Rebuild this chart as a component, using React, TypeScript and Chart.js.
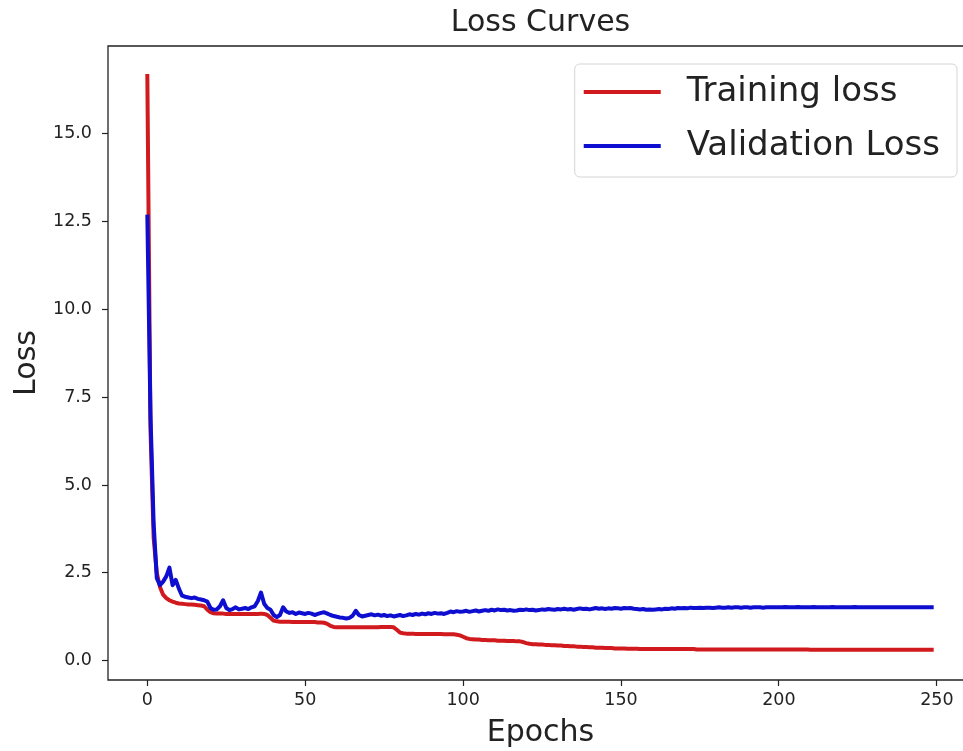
import React, { useEffect, useRef } from "react";
import { Chart, registerables } from "chart.js";

Chart.register(...registerables);

const chartTitle = "Loss Curves";
const xAxisTitle = "Epochs";
const yAxisTitle = "Loss";
const seriesLabels = ["Training loss", "Validation Loss"];
const xTickValues = [0, 50, 100, 150, 200, 250];
const yTickValues = [0, 2.5, 5, 7.5, 10, 12.5, 15];

const trainingLoss = [
  16.7, 6.6, 3.5, 2.5, 2.1, 1.88, 1.78, 1.72, 1.68, 1.65,
  1.63, 1.62, 1.61, 1.6, 1.6, 1.59, 1.58, 1.57, 1.55, 1.45,
  1.38, 1.35, 1.34, 1.34, 1.34, 1.33, 1.33, 1.33, 1.33, 1.33,
  1.33, 1.33, 1.33, 1.33, 1.33, 1.33, 1.34, 1.33, 1.3, 1.22,
  1.14, 1.12, 1.11, 1.11, 1.11, 1.11, 1.1, 1.1, 1.1, 1.1,
  1.1, 1.1, 1.1, 1.1, 1.09, 1.09, 1.08, 1.05, 0.99, 0.96,
  0.95, 0.95, 0.95, 0.95, 0.95, 0.95, 0.95, 0.95, 0.95, 0.95,
  0.95, 0.95, 0.95, 0.95, 0.96, 0.96, 0.96, 0.96, 0.95, 0.88,
  0.8, 0.78, 0.77, 0.77, 0.77, 0.76, 0.76, 0.76, 0.76, 0.76,
  0.76, 0.76, 0.76, 0.76, 0.75, 0.75, 0.75, 0.75, 0.74, 0.72,
  0.68, 0.64, 0.62, 0.61, 0.6, 0.6, 0.59, 0.59, 0.58, 0.58,
  0.58, 0.57, 0.57, 0.57, 0.56, 0.56, 0.56, 0.55, 0.55, 0.53,
  0.5, 0.48, 0.47, 0.47, 0.46, 0.46, 0.45, 0.45, 0.44, 0.44,
  0.43, 0.43, 0.42, 0.42, 0.41, 0.41, 0.4, 0.4, 0.39, 0.39,
  0.38, 0.38, 0.37, 0.37, 0.37, 0.36, 0.36, 0.36, 0.35, 0.35,
  0.35, 0.35, 0.34, 0.34, 0.34, 0.34, 0.33, 0.33, 0.33, 0.33,
  0.33, 0.33, 0.33, 0.33, 0.33, 0.33, 0.33, 0.33, 0.33, 0.33,
  0.33, 0.33, 0.33, 0.33, 0.32, 0.32, 0.32, 0.32, 0.32, 0.32,
  0.32, 0.32, 0.32, 0.32, 0.32, 0.32, 0.32, 0.32, 0.32, 0.32,
  0.32, 0.32, 0.32, 0.32, 0.32, 0.32, 0.32, 0.32, 0.32, 0.32,
  0.32, 0.32, 0.32, 0.32, 0.32, 0.32, 0.32, 0.32, 0.32, 0.32,
  0.31, 0.31, 0.31, 0.31, 0.31, 0.31, 0.31, 0.31, 0.31, 0.31,
  0.31, 0.31, 0.31, 0.31, 0.31, 0.31, 0.31, 0.31, 0.31, 0.31,
  0.31, 0.31, 0.31, 0.31, 0.31, 0.31, 0.31, 0.31, 0.31, 0.31,
  0.31, 0.31, 0.31, 0.31, 0.31, 0.31, 0.31, 0.31, 0.31, 0.31,
];

const validationLoss = [
  12.7, 7.0, 3.9, 2.35, 2.15, 2.25, 2.4, 2.65, 2.15, 2.3,
  2.05, 1.85, 1.82, 1.8, 1.78, 1.8, 1.76, 1.74, 1.72, 1.68,
  1.5, 1.45, 1.46, 1.55, 1.72, 1.5, 1.44, 1.47, 1.52, 1.46,
  1.48, 1.5, 1.47, 1.52, 1.55, 1.7, 1.94, 1.62, 1.5, 1.45,
  1.3, 1.24, 1.3, 1.52, 1.4, 1.36, 1.38, 1.33, 1.37, 1.35,
  1.33, 1.36, 1.34, 1.3, 1.33, 1.36, 1.38, 1.34, 1.3, 1.27,
  1.25, 1.23, 1.22, 1.2, 1.22, 1.28, 1.42, 1.3, 1.26, 1.28,
  1.3, 1.32, 1.29, 1.31, 1.28, 1.3, 1.27, 1.29, 1.26, 1.28,
  1.3, 1.27, 1.29, 1.32, 1.3, 1.33, 1.31, 1.34, 1.32, 1.35,
  1.33, 1.36, 1.34, 1.35, 1.33, 1.36, 1.4, 1.38, 1.41, 1.39,
  1.4, 1.42, 1.39, 1.41, 1.43, 1.4, 1.42, 1.44, 1.42, 1.45,
  1.43, 1.46, 1.44, 1.45, 1.43, 1.44, 1.42, 1.43, 1.45, 1.44,
  1.46, 1.44, 1.45, 1.43, 1.44, 1.46, 1.45, 1.47, 1.46, 1.45,
  1.47, 1.46, 1.48, 1.46, 1.47, 1.45, 1.47, 1.49, 1.47, 1.48,
  1.46, 1.48, 1.5, 1.48, 1.49, 1.47, 1.49, 1.48, 1.5, 1.49,
  1.48, 1.5, 1.49, 1.5, 1.48, 1.47, 1.46, 1.47, 1.45, 1.46,
  1.45, 1.46, 1.47, 1.46, 1.48, 1.47, 1.49, 1.48, 1.5, 1.49,
  1.5, 1.49, 1.51, 1.5, 1.5, 1.51, 1.5, 1.51, 1.51, 1.5,
  1.51, 1.52, 1.51, 1.51, 1.52, 1.51, 1.52, 1.52, 1.51, 1.52,
  1.52, 1.51, 1.52, 1.52, 1.52, 1.51, 1.52, 1.52, 1.52, 1.52,
  1.52, 1.52, 1.53, 1.52, 1.52, 1.52, 1.53, 1.52, 1.52, 1.52,
  1.52, 1.53, 1.52, 1.52, 1.52, 1.52, 1.52, 1.53, 1.52, 1.52,
  1.52, 1.52, 1.52, 1.52, 1.53, 1.52, 1.52, 1.52, 1.52, 1.52,
  1.52, 1.52, 1.52, 1.52, 1.52, 1.52, 1.52, 1.52, 1.52, 1.52,
  1.52, 1.52, 1.52, 1.52, 1.52, 1.52, 1.52, 1.52, 1.52, 1.52,
];

const epochs: number[] = trainingLoss.map((_, i) => i);

const FONT = '"DejaVu Sans", sans-serif';
const RED = "rgb(208, 26, 30)";
const BLUE = "rgb(14, 14, 208)";

const framePlugin = {
  id: "frame",
  afterDatasetsDraw(chart: any) {
    const { ctx, chartArea } = chart;
    const { left, right, top, bottom } = chartArea;
    ctx.save();
    ctx.strokeStyle = "#222";
    ctx.lineWidth = 1.3;
    ctx.beginPath();
    ctx.moveTo(right, top);
    ctx.lineTo(left, top);
    ctx.lineTo(left, bottom);
    ctx.lineTo(right, bottom);
    ctx.stroke();
    ctx.restore();
  },
};

const legendPlugin = {
  id: "boxLegend",
  afterDatasetsDraw(chart: any) {
    const { ctx, chartArea } = chart;
    const datasets = chart.data.datasets;
    ctx.save();
    ctx.font = `34px ${FONT}`;
    const textW = Math.max(...datasets.map((d: any) => ctx.measureText(d.label).width));
    const padL = 9, handle = 77, gap = 26, padR = 17, rowH = 54, padT = 28, padB = 31;
    const boxRight = chartArea.right - 16;
    const boxW = padL + handle + gap + textW + padR;
    const boxLeft = boxRight - boxW;
    const boxTop = chartArea.top + 18;
    const boxH = padT + rowH * (datasets.length - 1) + padB;
    ctx.beginPath();
    ctx.roundRect(boxLeft, boxTop, boxW, boxH, 5);
    ctx.fillStyle = "rgba(255,255,255,0.85)";
    ctx.fill();
    ctx.strokeStyle = "#d4d4d4";
    ctx.lineWidth = 1;
    ctx.stroke();
    datasets.forEach((d: any, i: number) => {
      const y = boxTop + padT + i * rowH;
      ctx.beginPath();
      ctx.moveTo(boxLeft + padL, y);
      ctx.lineTo(boxLeft + padL + handle, y);
      ctx.strokeStyle = d.borderColor;
      ctx.lineWidth = 4;
      ctx.stroke();
      ctx.fillStyle = "#222";
      ctx.textAlign = "left";
      ctx.textBaseline = "middle";
      ctx.fillText(d.label, boxLeft + padL + handle + gap, y);
    });
    ctx.restore();
  },
};

export default function App() {
  const ref = useRef<HTMLCanvasElement>(null);
  useEffect(() => {
    if (!ref.current) return;
    const chart = new Chart(ref.current, {
      type: "line",
      data: {
        labels: epochs,
        datasets: [
          {
            label: seriesLabels[0],
            data: trainingLoss,
            borderColor: RED,
            backgroundColor: RED,
            borderWidth: 4,
            pointRadius: 0,
            tension: 0,
            fill: false,
            order: 1,
            borderJoinStyle: "round",
          },
          {
            label: seriesLabels[1],
            data: validationLoss,
            borderColor: BLUE,
            backgroundColor: BLUE,
            borderWidth: 4,
            pointRadius: 0,
            tension: 0,
            fill: false,
            order: 0,
            borderJoinStyle: "round",
          },
        ],
      },
      options: {
        responsive: false,
        animation: false,
        devicePixelRatio: 1,
        layout: { padding: { left: 0, right: 12, top: 0, bottom: 0 } },
        plugins: {
          legend: { display: false },
          tooltip: { enabled: false },
          title: {
            display: true,
            text: chartTitle,
            fullSize: false,
            color: "#222",
            font: { family: FONT, size: 30, weight: "normal" },
            padding: { top: 5, bottom: 5 },
          },
        },
        scales: {
          x: {
            type: "linear",
            min: -12.45,
            max: 261.45,
            afterBuildTicks: (axis: any) => {
              axis.ticks = xTickValues.map((v) => ({ value: v }));
            },
            afterFit: (axis: any) => {
              axis.height = 71;
            },
            grid: { drawOnChartArea: false, drawTicks: true, tickLength: 6, tickColor: "#222", tickWidth: 1.2 },
            border: { display: false },
            ticks: {
              color: "#222",
              font: { family: FONT, size: 17.5 },
              padding: 4,
              maxRotation: 0,
              autoSkip: false,
              callback: (v: any) => String(v),
            },
            title: {
              display: true,
              text: xAxisTitle,
              color: "#222",
              font: { family: FONT, size: 30 },
              padding: { top: 0, bottom: 0 },
            },
          },
          y: {
            type: "linear",
            min: -0.55,
            max: 17.5,
            afterBuildTicks: (axis: any) => {
              axis.ticks = yTickValues.map((v) => ({ value: v }));
            },
            afterFit: (axis: any) => {
              axis.width = 108;
            },
            grid: { drawOnChartArea: false, drawTicks: true, tickLength: 6, tickColor: "#222", tickWidth: 1.2 },
            border: { display: false },
            ticks: {
              color: "#222",
              font: { family: FONT, size: 17.5 },
              padding: 10,
              autoSkip: false,
              callback: (v: any) => Number(v).toFixed(1),
            },
            title: {
              display: true,
              text: yAxisTitle,
              color: "#222",
              font: { family: FONT, size: 30 },
              padding: { top: 9, bottom: 0 },
            },
          },
        },
      },
      plugins: [framePlugin, legendPlugin],
    } as any);
    return () => chart.destroy();
  }, []);
  return (
    <div style={{ position: "fixed", left: 0, top: 0, width: 963, height: 751, overflow: "hidden", background: "#fff" }}>
      <canvas ref={ref} width={985} height={751} style={{ display: "block", width: 985, height: 751 }} />
    </div>
  );
}
